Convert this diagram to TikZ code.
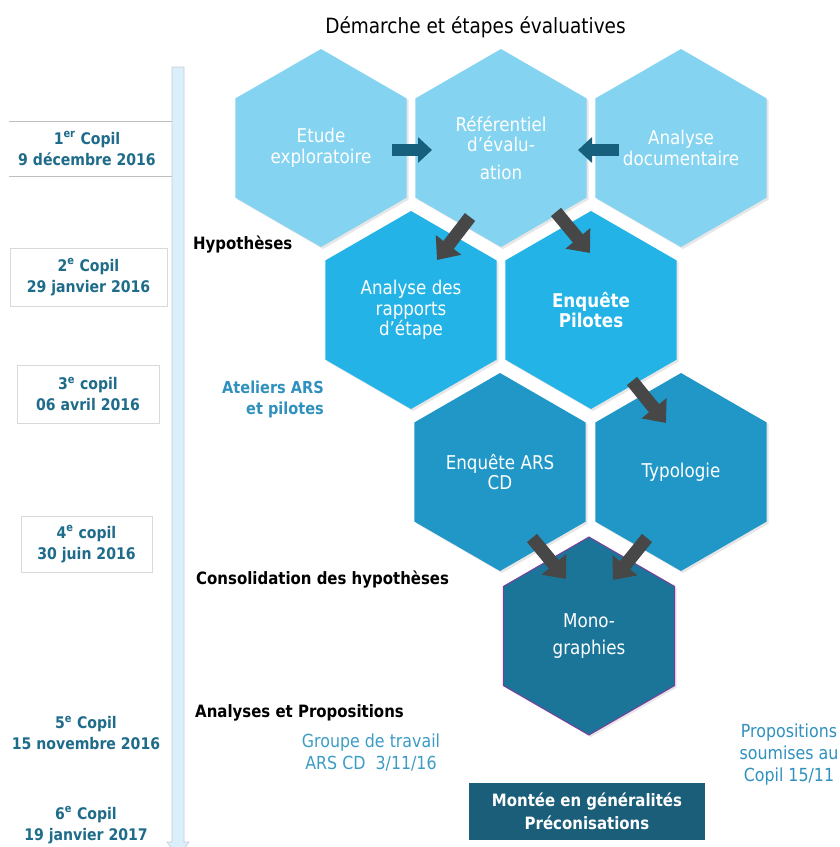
\documentclass[tikz,border=0pt]{standalone}
\usepackage{fontspec}
\setmainfont{DejaVu Sans}[FakeStretch=0.88]
\usepackage{tikz}
\usetikzlibrary{arrows.meta,calc,shapes.geometric,shadows}

\definecolor{hexA}{HTML}{83D3F1}
\definecolor{hexB}{HTML}{23B3E6}
\definecolor{hexC}{HTML}{2097C7}
\definecolor{hexD}{HTML}{1B7599}
\definecolor{monoedge}{HTML}{7A3E9D}
\definecolor{copilteal}{HTML}{1E6B8A}
\definecolor{atelierblue}{HTML}{3090BE}
\definecolor{groupeblue}{HTML}{3C9CC4}
\definecolor{boxteal}{HTML}{1A5E7A}
\definecolor{bluearrow}{HTML}{17607D}
\definecolor{arrowgray}{HTML}{474747}
\definecolor{timefill}{HTML}{DAEFFA}
\definecolor{timeedge}{HTML}{C5CDD5}

\begin{document}
\begin{tikzpicture}
    [ x=1pt, y=-1pt,
      hex/.style={regular polygon, regular polygon sides=6, shape border rotate=30,
                  minimum size=198pt, inner sep=0pt, outer sep=0pt, text=white,
                  align=center, font=\fontsize{19}{20.5}\selectfont,
                  drop shadow={opacity=.2, shadow xshift=2pt, shadow yshift=-2pt}},
      copil/.style={text=copilteal, align=center,
                    font=\bfseries\fontsize{16}{21}\selectfont},
      copilbox/.style={draw=black!15, inner sep=0pt},
      stage/.style={anchor=west, inner sep=0pt, font=\bfseries\fontsize{17}{21}\selectfont},
      note/.style={align=center, inner sep=0pt, font=\fontsize{18}{22}\selectfont},
      grayarrow/.style={draw=arrowgray, line width=13pt,
                        -{Triangle[length=19pt,width=31pt]}},
      bluearr/.style={draw=bluearrow, line width=12pt,
                      -{Triangle[length=14pt,width=25pt]}},
    ]
    \useasboundingbox (0,0) rectangle (840,847);

    \node[font=\fontsize{21}{24}\selectfont] (title) at (475.5,27)
        {Démarche et étapes évaluatives};

    % timeline
    \fill[timefill, draw=timeedge, line width=.6pt]
        (172,67) -- (184,67) -- (184,842) -- (189,842) -- (178,858)
        -- (167,842) -- (172,842) -- cycle;

    % copils
    \draw[black!25, line width=.8pt] (9,121) -- (172,121) (9,176) -- (172,176);
    \node[copil] (cop1) at (87,148.5) {1\textsuperscript{er} Copil\\9 décembre 2016};
    \node[copil, copilbox, minimum width=157pt, minimum height=58pt] (cop2)
        at (88.5,277) {2\textsuperscript{e} Copil\\29 janvier 2016};
    \node[copil, copilbox, minimum width=142pt, minimum height=58pt] (cop3)
        at (88,394) {3\textsuperscript{e} copil\\ 06 avril 2016};
    \node[copil, copilbox, minimum width=131pt, minimum height=56pt] (cop4)
        at (86.5,544) {4\textsuperscript{e} copil\\ 30 juin 2016};
    \node[copil] (cop5) at (86,733) {5\textsuperscript{e} Copil\\15 novembre 2016};
    \node[copil] (cop6) at (86,825) {6\textsuperscript{e} Copil\\19 janvier 2017};

    % hexagons
    \foreach \nm/\cx/\cy/\col/\edge/\txt in {
        etude/321/148/hexA/none/{Etude\\exploratoire},
        ref/501/148/hexA/none/{Référentiel\\d’évalu-\\[7pt]ation},
        doc/681/148/hexA/none/{Analyse\\documentaire},
        rap/411/310/hexB/none/{Analyse des\\rapports\\d’étape},
        pil/591/310/hexB/none/{\bfseries Enquête\\\bfseries Pilotes},
        ars/500/472/hexC/none/{Enquête ARS\\CD},
        typ/681/472/hexC/none/{Typologie},
        mono/589/636/hexD/monoedge/{Mono-\\[7pt]graphies}} {
        \node[hex, fill=\col, draw=\edge, line width=1pt] (\nm) at (\cx,\cy) {\txt};
    }

    \draw[bluearr] ($(etude)+(71,2)$) -- ($(ref)+(-69,2)$);
    \draw[bluearr] ($(doc)+(-62,2)$) -- ($(ref)+(77,2)$);

    \draw[grayarrow] ($(ref)+(-31,69)$) -- ($(rap)+(26,-50)$);
    \draw[grayarrow] ($(ref)+(55,64)$) -- ($(pil)+(-1,-57)$);
    \draw[grayarrow] ($(pil)+(41,71)$) -- ($(typ)+(-15,-49)$);
    \draw[grayarrow] ($(ars)+(32,66)$) -- ($(mono)+(-23,-57)$);
    \draw[grayarrow] ($(typ)+(-34,66)$) -- ($(mono)+(24,-56)$);

    % stages
    \node[stage] (hyp) at (193,245) {Hypothèses};
    \node[stage] (conso) at (196,580) {Consolidation des hypothèses};
    \node[stage] (analyses) at (195,713) {Analyses et Propositions};

    \node[note, anchor=east, align=right, text=atelierblue,
          font=\bfseries\fontsize{16.5}{21}\selectfont] (ateliers) at (324,399.5)
        {Ateliers ARS\\et pilotes};
    \node[note, text=groupeblue] (groupe) at (371,752.5)
        {Groupe de travail\\ARS CD\ \ 3/11/16};
    \node[note, text=atelierblue] (props) at (789,755)
        {Propositions\\soumises au\\Copil 15/11};

    \node[fill=boxteal, text=white, align=center, minimum width=236pt,
          minimum height=57pt, inner sep=0pt,
          font=\bfseries\fontsize{17}{23}\selectfont] (montee) at (587,811.5)
        {Montée en généralités\\Préconisations};
\end{tikzpicture}
\end{document}
